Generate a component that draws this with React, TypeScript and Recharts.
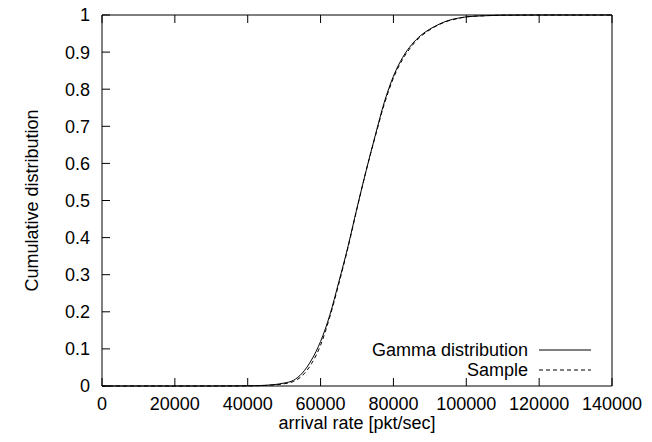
import { LineChart, Line, XAxis, YAxis, Legend } from 'recharts';

const rates = [
  0, 20000, 30000, 40000, 42500, 45000, 47500, 50000, 52500, 55000, 57500, 60000,
  62500, 65000, 67500, 70000, 72500, 75000, 77500, 80000, 82500, 85000, 87500,
  90000, 92500, 95000, 97500, 100000, 105000, 110000, 120000, 140000,
];
const gammaCdf = [
  0, 0, 0, 0.0005, 0.001, 0.002, 0.004, 0.008, 0.015, 0.035, 0.07, 0.12,
  0.19, 0.28, 0.375, 0.48, 0.58, 0.675, 0.765, 0.835, 0.885, 0.92, 0.945,
  0.962, 0.975, 0.985, 0.991, 0.995, 0.998, 0.9995, 1, 1,
];
const sampleCdf = [
  0, 0, 0, 0.0003, 0.0008, 0.0015, 0.003, 0.006, 0.012, 0.028, 0.06, 0.11,
  0.185, 0.275, 0.372, 0.478, 0.58, 0.672, 0.76, 0.83, 0.88, 0.916, 0.942,
  0.96, 0.974, 0.984, 0.99, 0.995, 0.998, 0.9995, 1, 1,
];
const xTicks = [0, 20000, 40000, 60000, 80000, 100000, 120000, 140000];
const yTicks = [0, 0.1, 0.2, 0.3, 0.4, 0.5, 0.6, 0.7, 0.8, 0.9, 1];
const yTickLabels = ['0', '0.1', '0.2', '0.3', '0.4', '0.5', '0.6', '0.7', '0.8', '0.9', '1'];

const data = rates.map((r, i) => ({ rate: r, gamma: gammaCdf[i], sample: sampleCdf[i] }));

const FONT = '"Liberation Sans", Arial, Helvetica, sans-serif';
const FS = 18;
const TICK = 8;

const BottomTick = (props: any) => {
  const { x, y, payload } = props;
  return (
    <g>
      <line x1={x} y1={y} x2={x} y2={y - TICK} stroke="#000" />
      <text x={x} y={y + 24} textAnchor="middle" fontFamily={FONT} fontSize={FS} fill="#000">
        {payload.value}
      </text>
    </g>
  );
};

const TopTick = (props: any) => {
  const { x, y } = props;
  return <line x1={x} y1={y} x2={x} y2={y + TICK} stroke="#000" />;
};

const LeftTick = (props: any) => {
  const { x, y, index } = props;
  return (
    <g>
      <line x1={x} y1={y} x2={x + TICK} y2={y} stroke="#000" />
      <text x={x - 12} y={y} dy="0.36em" textAnchor="end" fontFamily={FONT} fontSize={FS} fill="#000">
        {yTickLabels[index]}
      </text>
    </g>
  );
};

const RightTick = (props: any) => {
  const { x, y } = props;
  return <line x1={x} y1={y} x2={x - TICK} y2={y} stroke="#000" />;
};

const XLabel = (props: any) => {
  const { x, y, width } = props.viewBox;
  return (
    <text x={x + width / 2} y={y + 43} textAnchor="middle" fontFamily={FONT} fontSize={FS} fill="#000">
      arrival rate [pkt/sec]
    </text>
  );
};

const YLabel = (props: any) => {
  const { x, y, height } = props.viewBox;
  const cx = x + 32;
  const cy = y + height / 2;
  return (
    <text
      x={cx}
      y={cy}
      dy="0.36em"
      transform={`rotate(-90 ${cx} ${cy})`}
      textAnchor="middle"
      fontFamily={FONT}
      fontSize={FS}
      fill="#000"
    >
      Cumulative distribution
    </text>
  );
};

const renderLegend = (props: any) => {
  const { payload } = props;
  return (
    <svg width={240} height={50} style={{ overflow: 'visible', display: 'block' }}>
      {payload.map((entry: any, i: number) => (
        <g key={entry.value}>
          <text
            x={168}
            y={10 + i * 20}
            dy="0.36em"
            textAnchor="end"
            fontFamily={FONT}
            fontSize={FS}
            fill="#000"
          >
            {entry.value}
          </text>
          <line
            x1={179}
            y1={10 + i * 20}
            x2={231}
            y2={10 + i * 20}
            stroke="#000"
            strokeDasharray={entry.payload?.strokeDasharray}
          />
        </g>
      ))}
    </svg>
  );
};

export default function App() {
  return (
    <div style={{ position: 'absolute', left: 0, top: 0, background: '#fff' }}>
      <LineChart width={652} height={442} data={data} margin={{ top: 14, right: 39, bottom: 0, left: 0 }}>
        <XAxis
          xAxisId="bottom"
          dataKey="rate"
          type="number"
          domain={[0, 140000]}
          ticks={xTicks}
          height={56}
          tickSize={0}
          tickMargin={0}
          tickLine={false}
          axisLine={{ stroke: '#000' }}
          tick={<BottomTick />}
          label={<XLabel />}
          interval={0}
        />
        <XAxis
          xAxisId="top"
          orientation="top"
          dataKey="rate"
          type="number"
          domain={[0, 140000]}
          ticks={xTicks}
          height={1}
          tickSize={0}
          tickMargin={0}
          tickLine={false}
          axisLine={{ stroke: '#000' }}
          tick={<TopTick />}
          interval={0}
        />
        <YAxis
          yAxisId="left"
          type="number"
          domain={[0, 1]}
          ticks={yTicks}
          width={102}
          tickSize={0}
          tickMargin={0}
          tickLine={false}
          axisLine={{ stroke: '#000' }}
          tick={<LeftTick />}
          label={<YLabel />}
          interval={0}
        />
        <YAxis
          yAxisId="right"
          orientation="right"
          type="number"
          domain={[0, 1]}
          ticks={yTicks}
          width={1}
          tickSize={0}
          tickMargin={0}
          tickLine={false}
          axisLine={{ stroke: '#000' }}
          tick={<RightTick />}
          interval={0}
        />
        <Legend
          layout="horizontal"
          align="center"
          verticalAlign="middle"
          content={renderLegend}
          wrapperStyle={{ position: 'absolute', left: 360, top: 340, width: 240, height: 50, bottom: 'auto' }}
        />
        <Line
          xAxisId="bottom"
          yAxisId="left"
          type="monotone"
          dataKey="gamma"
          name="Gamma distribution"
          stroke="#000"
          strokeWidth={1}
          dot={false}
          isAnimationActive={false}
        />
        <Line
          xAxisId="bottom"
          yAxisId="left"
          type="monotone"
          dataKey="sample"
          name="Sample"
          stroke="#000"
          strokeWidth={1}
          strokeDasharray="4 3"
          dot={false}
          isAnimationActive={false}
        />
      </LineChart>
    </div>
  );
}
